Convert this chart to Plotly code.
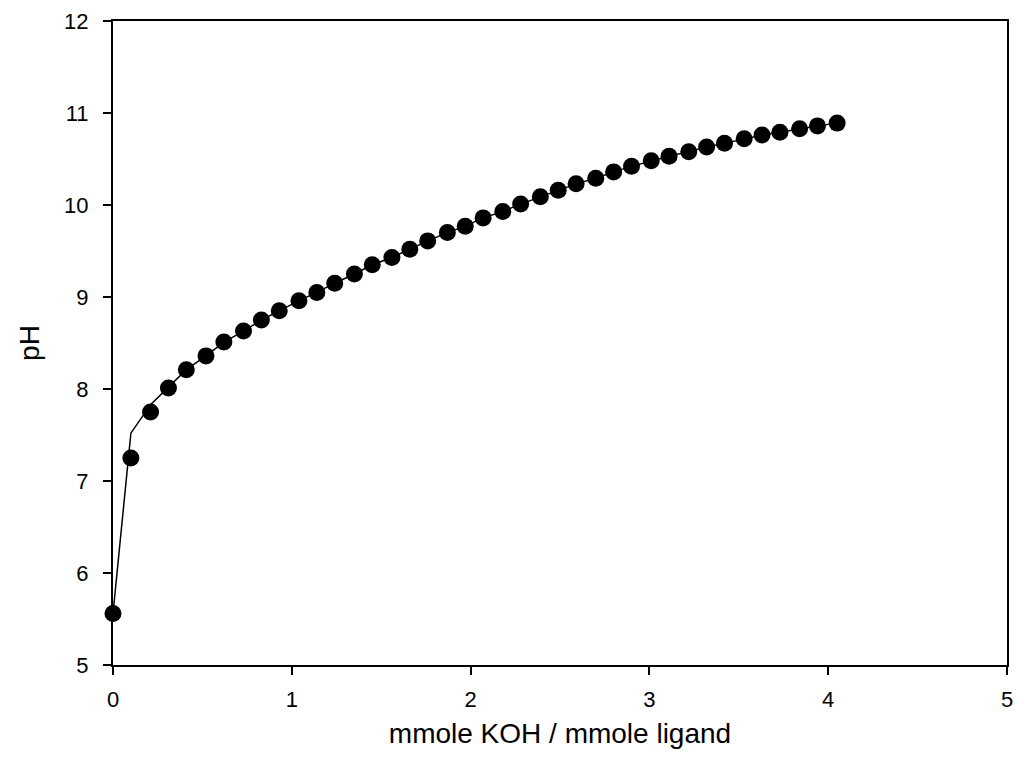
import plotly.graph_objects as go

# mmole KOH / mmole ligand
x_vals = [0.00, 0.10, 0.21, 0.31, 0.41, 0.52, 0.62, 0.73, 0.83, 0.93,
          1.04, 1.14, 1.24, 1.35, 1.45, 1.56, 1.66, 1.76, 1.87, 1.97,
          2.07, 2.18, 2.28, 2.39, 2.49, 2.59, 2.70, 2.80, 2.90, 3.01,
          3.11, 3.22, 3.32, 3.42, 3.53, 3.63, 3.73, 3.84, 3.94, 4.05]
# measured pH (points)
ph_points = [5.56, 7.25, 7.75, 8.01, 8.21, 8.36, 8.51, 8.63, 8.75, 8.85,
             8.96, 9.05, 9.15, 9.25, 9.35, 9.43, 9.52, 9.61, 9.70, 9.77,
             9.86, 9.93, 10.01, 10.09, 10.16, 10.23, 10.29, 10.36, 10.42, 10.48,
             10.53, 10.58, 10.63, 10.67, 10.72, 10.76, 10.79, 10.83, 10.86, 10.89]
# fitted curve (line)
ph_line = [5.56, 7.52, 7.83, 8.02, 8.21, 8.36, 8.51, 8.63, 8.75, 8.85,
           8.96, 9.05, 9.15, 9.25, 9.35, 9.43, 9.52, 9.61, 9.70, 9.77,
           9.86, 9.93, 10.01, 10.09, 10.16, 10.23, 10.29, 10.36, 10.42, 10.48,
           10.53, 10.58, 10.63, 10.67, 10.72, 10.76, 10.79, 10.83, 10.86, 10.89]

x_ticks = [0, 1, 2, 3, 4, 5]
y_ticks = [5, 6, 7, 8, 9, 10, 11, 12]

fig = go.Figure()
fig.add_trace(go.Scatter(x=x_vals, y=ph_line, mode="lines",
                         line=dict(color="black", width=1.5), showlegend=False,
                         cliponaxis=False))
fig.add_trace(go.Scatter(x=x_vals, y=ph_points, mode="markers",
                         marker=dict(color="black", size=17), showlegend=False,
                         cliponaxis=False))

font = "Liberation Sans, Arial, sans-serif"
fig.update_layout(
    width=1018, height=770,
    margin=dict(l=113, r=11, t=21, b=105),
    paper_bgcolor="white", plot_bgcolor="white",
    font=dict(family=font, size=22, color="black"),
    xaxis=dict(range=[0, 5], tickvals=x_ticks,
               ticks="outside", ticklen=8, tickwidth=1.5, tickcolor="black",
               showline=True, linecolor="black", linewidth=2, mirror=True,
               showgrid=False, zeroline=False, automargin=False,
               ticklabelstandoff=6,
               tickfont=dict(family=font, size=22, color="black"),
               title=dict(text="mmole KOH / mmole ligand",
                          font=dict(family=font, size=28, color="black"),
                          standoff=12)),
    yaxis=dict(range=[5, 12], tickvals=y_ticks,
               ticks="outside", ticklen=8, tickwidth=1.5, tickcolor="black",
               showline=True, linecolor="black", linewidth=2, mirror=True,
               showgrid=False, zeroline=False, automargin=False,
               ticklabelstandoff=10,
               tickfont=dict(family=font, size=22, color="black"),
               title=dict(text="pH", font=dict(family=font, size=28, color="black"),
                          standoff=16)),
)

fig.write_html("out.html")
